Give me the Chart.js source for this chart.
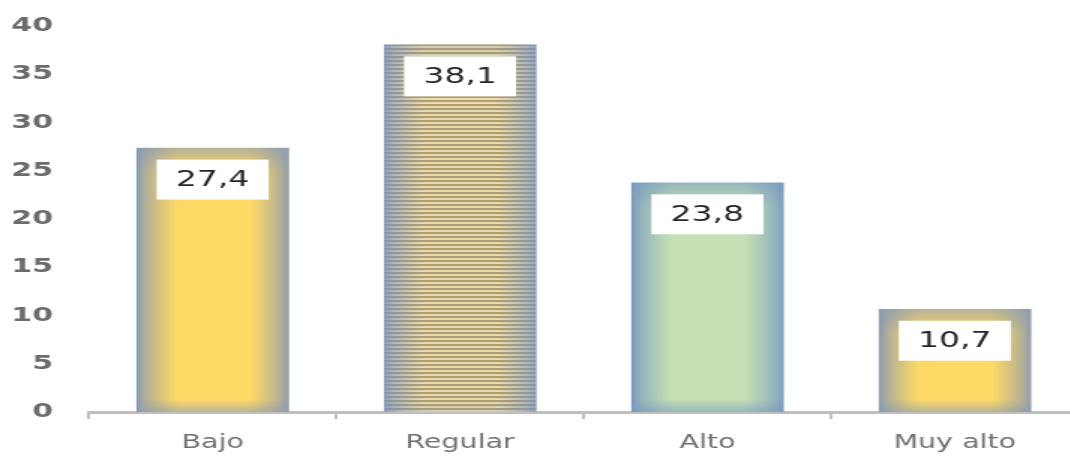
<!DOCTYPE html>
<html>
<head>
<meta charset="utf-8">
<script src="https://cdn.jsdelivr.net/npm/chart.js@4/dist/chart.umd.min.js"></script>
<style>
  html, body { margin: 0; padding: 0; background: #ffffff; overflow: hidden; }
  #wrap { width: 1070px; height: 457px; overflow: hidden; position: relative; }
  #c { width: 1080px !important; height: 457px !important; display: block; }
</style>
</head>
<body>
<div id="wrap"><canvas id="c" width="720" height="457" style="width:1080px;height:457px"></canvas></div>
<script>
// ---- data ----
const categories = ['Bajo', 'Regular', 'Alto', 'Muy alto'];
const values = [27.4, 38.1, 23.8, 10.7];
const yMin = 0;
const yMax = 40;
const yStep = 5;

// ---- styles ----
const STRETCH = 1.5;           // canvas is drawn narrow and stretched horizontally by CSS
const FONT = "'DejaVu Sans', Verdana, sans-serif";
const BAR_PCT = 0.618;
const fills = [
  { kind: 'glow', center: [254, 217, 102], edge: [134, 152, 180] },
  { kind: 'stripes', edge: [116, 144, 196] },
  { kind: 'glow', center: [197, 224, 180], edge: [118, 152, 192] },
  { kind: 'glow', center: [254, 217, 102], edge: [134, 152, 180] }
];
const stripeRows = [[160, 128, 48], [200, 176, 106], [242, 236, 214], [210, 214, 220]];

function lin(t) { return Math.max(0, Math.min(1, t)); }
function mix(a, b, t) { return [a[0] + (b[0] - a[0]) * t, a[1] + (b[1] - a[1]) * t, a[2] + (b[2] - a[2]) * t]; }

const patternCache = {};
function barFill(ctx) {
  const chart = ctx.chart;
  const i = ctx.dataIndex;
  const spec = fills[i % fills.length];
  const xs = chart.scales && chart.scales.x;
  const ys = chart.scales && chart.scales.y;
  if (!xs || !ys || !xs.width) return 'rgb(' + (spec.center || [200, 170, 90]).join(',') + ')';
  const v = ctx.parsed ? ctx.parsed.y : values[i];
  const cx = xs.getPixelForValue(i);
  const w = xs.width / categories.length * BAR_PCT;
  const top = ys.getPixelForValue(v);
  const bottom = ys.getPixelForValue(0);
  const left = cx - w / 2;
  const W = Math.max(1, Math.ceil(w) + 1), H = Math.max(1, Math.ceil(bottom - top) + 1);
  const key = i + ':' + W + 'x' + H + '@' + left.toFixed(2) + ',' + top.toFixed(2);
  if (patternCache[key]) return patternCache[key];
  const off = document.createElement('canvas');
  off.width = W; off.height = H;
  const octx = off.getContext('2d');
  const img = octx.createImageData(W, H);
  const gw = 40, ghTop = 24, ghBot = 14;
  for (let y = 0; y < H; y++) {
    const fy = Math.min(lin(y / ghTop), lin((H - 1 - y) / ghBot));
    for (let x = 0; x < W; x++) {
      const dx = Math.min(x, W - 1 - x) * STRETCH;
      const fx = Math.pow(lin(dx / gw), 0.7);
      let c;
      if (spec.kind === 'stripes') {
        const base = stripeRows[y % stripeRows.length];
        c = mix(spec.edge, base, 0.2 + 0.8 * fx * (0.75 + 0.25 * fy));
      } else {
        c = mix(spec.edge, spec.center, fx * (0.4 + 0.6 * fy));
      }
      const p = (y * W + x) * 4;
      img.data[p] = c[0]; img.data[p + 1] = c[1]; img.data[p + 2] = c[2]; img.data[p + 3] = 255;
    }
  }
  octx.putImageData(img, 0, 0);
  const pat = chart.ctx.createPattern(off, 'no-repeat');
  pat.setTransform(new DOMMatrix([1, 0, 0, 1, left, top]));
  patternCache[key] = pat;
  return pat;
}

const valueLabels = {
  id: 'valueLabels',
  afterDatasetsDraw(chart) {
    const c = chart.ctx;
    const meta = chart.getDatasetMeta(0);
    meta.data.forEach((bar, i) => {
      const p = bar.getProps(['x', 'y'], true);
      const bw = 112 / STRETCH, bh = 40;
      const bx = p.x - bw / 2, by = p.y + 12;
      c.save();
      c.fillStyle = '#ffffff';
      c.fillRect(bx, by, bw, bh);
      c.fillStyle = '#262626';
      c.font = '22px ' + FONT;
      c.textAlign = 'center';
      c.textBaseline = 'middle';
      c.fillText(String(values[i]).replace('.', ','), p.x, by + bh / 2 + 1);
      c.restore();
    });
  }
};

new Chart(document.getElementById('c'), {
  type: 'bar',
  data: {
    labels: categories,
    datasets: [{
      data: values,
      backgroundColor: barFill,
      borderWidth: 0,
      barPercentage: BAR_PCT,
      categoryPercentage: 1
    }]
  },
  options: {
    responsive: false,
    animation: false,
    devicePixelRatio: 1,
    layout: { padding: { top: 26, right: 1, left: 0, bottom: 0 } },
    plugins: { legend: { display: false }, tooltip: { enabled: false } },
    scales: {
      x: {
        grid: { display: true, drawOnChartArea: false, drawTicks: true, tickLength: 7, color: '#bfbfbf', lineWidth: 2, offset: true },
        border: { display: true, color: '#bfbfbf', width: 3 },
        ticks: { color: '#707070', font: { family: FONT, size: 19 }, padding: 13, maxRotation: 0 },
        afterFit(scale) { scale.height = 45; scale.paddingLeft = 0; scale.paddingRight = 0; }
      },
      y: {
        min: yMin, max: yMax,
        grid: { display: false, drawTicks: false },
        border: { display: false },
        ticks: { stepSize: yStep, color: '#6b6b6b', font: { family: FONT, size: 20, weight: 'bold' }, padding: 24 },
        afterFit(scale) { scale.width = 59.3; scale.paddingTop = 0; scale.paddingBottom = 0; }
      }
    }
  },
  plugins: [valueLabels]
});
</script>
</body>
</html>
